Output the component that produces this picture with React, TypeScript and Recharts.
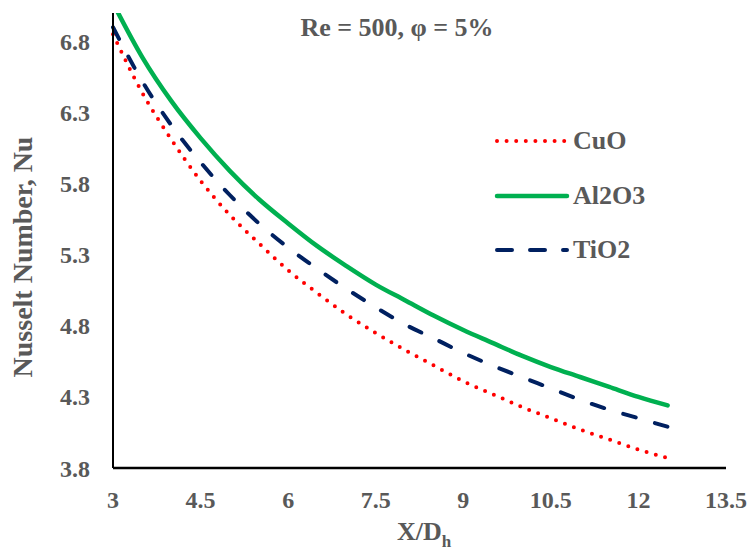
import { LineChart, Line, XAxis, YAxis, Legend, Label } from "recharts";

// distance along the duct, X/Dh
const xPositions = [3, 3.5, 4, 4.5, 5, 5.5, 6, 6.5, 7, 7.5, 8, 8.5, 9, 9.5, 10, 10.5, 11, 11.5, 12, 12.5];

// local Nusselt number for each nanofluid
const cuoNu = [6.85, 6.44, 6.11, 5.82, 5.58, 5.38, 5.19, 5.03, 4.88, 4.75, 4.63, 4.52, 4.41, 4.32, 4.23, 4.15, 4.07, 4.0, 3.93, 3.87];
const al2o3Nu = [7.07, 6.69, 6.38, 6.12, 5.89, 5.69, 5.52, 5.36, 5.22, 5.09, 4.98, 4.87, 4.77, 4.68, 4.59, 4.51, 4.44, 4.37, 4.3, 4.24];
const tio2Nu = [6.9, 6.52, 6.21, 5.95, 5.72, 5.52, 5.35, 5.2, 5.06, 4.93, 4.81, 4.71, 4.61, 4.52, 4.44, 4.36, 4.28, 4.21, 4.15, 4.09];

const xTicks = [3, 4.5, 6, 7.5, 9, 10.5, 12, 13.5];
const yTicks = [3.8, 4.3, 4.8, 5.3, 5.8, 6.3, 6.8];

const TITLE = "Re = 500, φ = 5%";

const FONT = "'Liberation Serif', 'Times New Roman', serif";
const GREY = "#595959";

const series = [
  { key: "CuO", color: "#FF0000", width: 4, dash: "0 9.6", legendDash: "0 9.6" },
  { key: "Al2O3", color: "#00B050", width: 4.5, dash: undefined, legendDash: undefined },
  { key: "TiO2", color: "#002060", width: 4, dash: "13 20", legendDash: "15 18" },
];

const rows = xPositions.map((x, i) => ({
  x,
  CuO: cuoNu[i],
  Al2O3: al2o3Nu[i],
  TiO2: tio2Nu[i],
}));

const tickStyle = { fontFamily: FONT, fontWeight: 700, fontSize: 24, fill: GREY };

function LegendBox() {
  return (
    <div style={{ fontFamily: FONT, fontWeight: 700, fontSize: 26, color: GREY }}>
      {series.map((s) => (
        <div key={s.key} style={{ display: "flex", alignItems: "center", height: 54.5 }}>
          <svg width={78} height={10} style={{ overflow: "visible" }}>
            <line
              x1={2}
              y1={5}
              x2={72}
              y2={5}
              stroke={s.color}
              strokeWidth={s.width}
              strokeDasharray={s.legendDash}
              strokeLinecap="round"
            />
          </svg>
          <span>{s.key}</span>
        </div>
      ))}
    </div>
  );
}

export default function App() {
  return (
    <div style={{ position: "relative", width: 750, height: 551, background: "#fff" }}>
      <style>{`body{margin:0}`}</style>
      <div
        style={{
          position: "absolute",
          left: 0,
          width: 794,
          top: 13,
          textAlign: "center",
          fontFamily: FONT,
          fontWeight: 700,
          fontSize: 26,
          color: GREY,
          zIndex: 2,
          lineHeight: "30px",
        }}
      >
        {TITLE}
      </div>
      <LineChart width={750} height={551} data={rows} margin={{ top: 13, right: 24, bottom: 0, left: 0 }}>
        <XAxis
          dataKey="x"
          type="number"
          domain={[3, 13.5]}
          ticks={xTicks}
          tickLine={false}
          tickSize={0}
          tickMargin={23}
          height={83}
          axisLine={{ stroke: "#000", strokeWidth: 2.5 }}
          tick={tickStyle}
          interval={0}
        >
          <Label
            content={() => (
              <text x={397} y={540} fontFamily={FONT} fontWeight={700} fontSize={26} fill={GREY}>
                X/D
                <tspan fontSize={17} dy={7}>
                  h
                </tspan>
              </text>
            )}
          />
        </XAxis>
        <YAxis
          type="number"
          domain={[3.8, 7]}
          ticks={yTicks}
          allowDataOverflow
          width={113}
          tickLine={false}
          tickSize={0}
          tickMargin={23}
          axisLine={{ stroke: "#000", strokeWidth: 2 }}
          tick={tickStyle}
          interval={0}
        >
          <Label
            content={() => (
              <text
                x={32}
                y={257}
                transform="rotate(-90 32 257)"
                textAnchor="middle"
                fontFamily={FONT}
                fontWeight={700}
                fontSize={28}
                fill={GREY}
              >
                Nusselt Number, Nu
              </text>
            )}
          />
        </YAxis>
        <Legend
          layout="horizontal"
          verticalAlign="middle"
          align="center"
          content={() => <LegendBox />}
          wrapperStyle={{ left: 495, top: 114, width: 200, height: 170 }}
        />
        {series.map((s) => (
          <Line
            key={s.key}
            dataKey={s.key}
            type="monotone"
            stroke={s.color}
            strokeWidth={s.width}
            strokeDasharray={s.dash}
            strokeLinecap="round"
            dot={false}
            activeDot={false}
            isAnimationActive={false}
          />
        ))}
      </LineChart>
    </div>
  );
}
